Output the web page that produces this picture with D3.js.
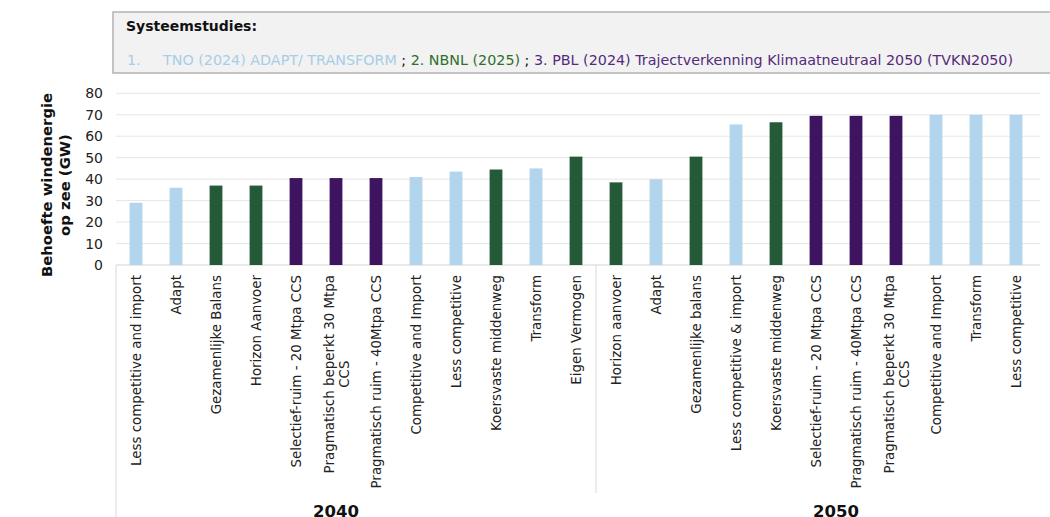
<!DOCTYPE html>
<html>
<head>
<meta charset="utf-8">
<script src="https://cdn.jsdelivr.net/npm/d3@7"></script>
<style>
  body { margin: 0; background: #fff; }
  text { font-family: 'DejaVu Sans', Verdana, sans-serif; }
</style>
</head>
<body>
<div class="graph"></div>
<script>
// scenario labels, in the order of the bars ("\n" = second line)
var scenarios = [
  'Less competitive and import', 'Adapt', 'Gezamenlijke Balans', 'Horizon  Aanvoer',
  'Selectief-ruim - 20 Mtpa CCS', 'Pragmatisch beperkt 30 Mtpa\nCCS', 'Pragmatisch ruim - 40Mtpa CCS',
  'Competitive and Import', 'Less competitive', 'Koersvaste middenweg', 'Transform', 'Eigen Vermogen',
  'Horizon aanvoer', 'Adapt', 'Gezamenlijke balans', 'Less competitive & import', 'Koersvaste middenweg',
  'Selectief-ruim - 20 Mtpa CCS', 'Pragmatisch ruim - 40Mtpa CCS', 'Pragmatisch beperkt 30 Mtpa\nCCS',
  'Competitive and Import', 'Transform', 'Less competitive'
];
var scenarioYear = [
  '2040', '2040', '2040', '2040', '2040', '2040', '2040', '2040', '2040', '2040', '2040', '2040',
  '2050', '2050', '2050', '2050', '2050', '2050', '2050', '2050', '2050', '2050', '2050'
];
// 1 = TNO, 2 = NBNL, 3 = PBL
var scenarioStudy = [1, 1, 2, 2, 3, 3, 3, 1, 1, 2, 1, 2, 2, 1, 2, 1, 2, 3, 3, 3, 1, 1, 1];
var windGW = [29, 36, 37, 37, 40.5, 40.5, 40.5, 41, 43.5, 44.5, 45, 50.5,
              38.5, 40, 50.5, 65.5, 66.5, 69.5, 69.5, 69.5, 70, 70, 70];
var years = ['2040', '2050'];
var yTicks = [0, 10, 20, 30, 40, 50, 60, 70, 80];
var studyColors = { 1: '#b2d4ec', 2: '#245a37', 3: '#3e1461' };
var legendColors = { 1: '#a8cde8', 2: '#2f6f2c', 3: '#552a7c' };

var width = 1050,
    height = 517,
    plotLeft = 116,
    plotRight = 1036,
    plotTop = 93.3,
    plotBottom = 265;

var svg = d3.select('.graph')
  .append('svg')
  .attr('width', width)
  .attr('height', height);

// legend box
svg.append('rect')
  .attr('x', 113).attr('y', 12)
  .attr('width', 960).attr('height', 61)
  .attr('fill', '#f2f2f2')
  .attr('stroke', '#b3b3b3')
  .attr('stroke-width', 1.5);

svg.append('text')
  .attr('x', 126).attr('y', 31)
  .attr('font-size', 14).attr('font-weight', 'bold')
  .attr('fill', '#111')
  .text('Systeemstudies:');

var legendLine = svg.append('text')
  .attr('x', 127).attr('y', 65)
  .attr('font-size', 14.3);
legendLine.append('tspan').attr('fill', legendColors[1]).text('1.');
legendLine.append('tspan').attr('x', 163).attr('fill', legendColors[1]).text('TNO (2024) ADAPT/ TRANSFORM');
legendLine.append('tspan').attr('fill', '#111').text(' ; ');
legendLine.append('tspan').attr('fill', legendColors[2]).text('2. NBNL (2025)');
legendLine.append('tspan').attr('fill', '#111').text(' ; ');
legendLine.append('tspan').attr('fill', legendColors[3]).text('3. PBL (2024) Trajectverkenning Klimaatneutraal 2050 (TVKN2050)');

var x = d3.scaleBand()
  .domain(d3.range(scenarios.length))
  .range([plotLeft, plotRight])
  .paddingInner(0.68)
  .paddingOuter(0.34);

var y = d3.scaleLinear()
  .domain([0, 80])
  .range([plotBottom, plotTop]);

// gridlines
svg.append('g')
  .selectAll('line')
  .data(yTicks)
  .enter()
  .append('line')
  .attr('x1', plotLeft).attr('x2', 1040)
  .attr('y1', d => y(d)).attr('y2', d => y(d))
  .attr('stroke', (d) => d === 0 ? '#d4d4d4' : '#e6e6e6')
  .attr('stroke-width', 1);

// y axis labels
var yAxis = svg.append('g')
  .attr('transform', 'translate(103,0)')
  .call(d3.axisLeft(y).tickValues(yTicks).tickSize(0).tickPadding(0));
yAxis.select('.domain').remove();
yAxis.selectAll('text')
  .attr('font-size', 14)
  .attr('font-family', "'DejaVu Sans', Verdana, sans-serif")
  .attr('fill', '#222');

// y title
var yTitle = svg.append('text')
  .attr('transform', 'translate(56,185) rotate(-90)')
  .attr('text-anchor', 'middle')
  .attr('font-size', 14.8)
  .attr('font-weight', 'bold')
  .attr('fill', '#111');
yTitle.append('tspan').attr('x', 0).attr('y', -4).text('Behoefte windenergie');
yTitle.append('tspan').attr('x', 0).attr('y', 14).text('op zee (GW)');

// bars
svg.selectAll('rect.bar')
  .data(windGW)
  .enter()
  .append('rect')
  .attr('class', 'bar')
  .attr('x', (d, i) => x(i))
  .attr('y', d => y(d))
  .attr('width', x.bandwidth())
  .attr('height', d => y(0) - y(d))
  .attr('fill', (d, i) => studyColors[scenarioStudy[i]]);

// category separators
var gap = (x.step() - x.bandwidth()) / 2;
var firstOf2050 = scenarioYear.indexOf('2050');
svg.append('line')
  .attr('x1', plotLeft).attr('x2', plotLeft)
  .attr('y1', plotBottom).attr('y2', height)
  .attr('stroke', '#d9d9d9');
svg.append('line')
  .attr('x1', x(firstOf2050) - gap).attr('x2', x(firstOf2050) - gap)
  .attr('y1', plotBottom).attr('y2', 493)
  .attr('stroke', '#d9d9d9');

// scenario labels
var labels = svg.append('g')
  .selectAll('g')
  .data(scenarios)
  .enter()
  .append('g')
  .attr('transform', (d, i) => 'translate(' + (x(i) + x.bandwidth() / 2) + ',' + 275 + ') rotate(-90)');

labels.each(function (d) {
  var g = d3.select(this);
  var lines = d.split('\n');
  var t = g.append('text')
    .attr('font-size', 13.4)
    .attr('fill', '#222')
    .attr('dominant-baseline', 'central');
  if (lines.length === 1) {
    t.attr('text-anchor', 'end').text(d);
  } else {
    var first = t.append('tspan').attr('x', 0).attr('y', -7.5).text(lines[0]);
    var w = first.node().getComputedTextLength();
    t.attr('text-anchor', 'middle');
    first.attr('x', -w / 2);
    t.append('tspan').attr('x', -w / 2).attr('y', 8).text(lines[1]);
  }
});

// year labels (slightly off-centre in the original: 2040 left, 2050 right)
svg.selectAll('text.year')
  .data(years)
  .enter()
  .append('text')
  .attr('class', 'year')
  .attr('x', (d, k) => {
    var first = scenarioYear.indexOf(d);
    var last = scenarioYear.lastIndexOf(d);
    var mid = (x(first) - gap + x(last) + x.bandwidth() + gap) / 2;
    return mid + (k === 0 ? -1 : 1) * x.step() / 2;
  })
  .attr('y', 517)
  .attr('text-anchor', 'middle')
  .attr('font-size', 16.5)
  .attr('font-weight', 'bold')
  .attr('fill', '#111')
  .text(d => d);
</script>
</body>
</html>
